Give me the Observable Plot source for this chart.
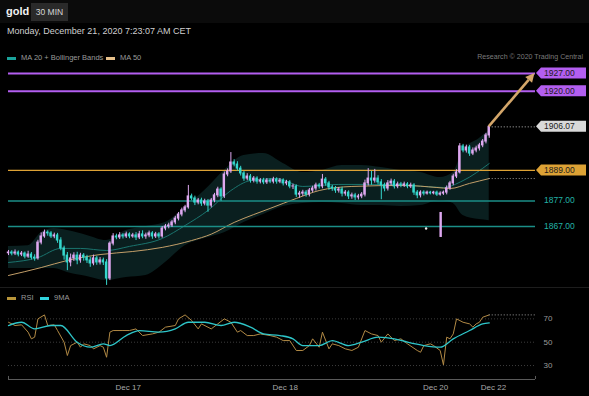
<!DOCTYPE html>
<html><head><meta charset="utf-8">
<script src="https://cdn.jsdelivr.net/npm/d3@7"></script>
<script src="https://cdn.jsdelivr.net/npm/@observablehq/plot@0.6"></script>
<style>
html,body{margin:0;padding:0;background:#000;}
#root{position:relative;width:589px;height:396px;overflow:hidden;background:#000;font-family:"Liberation Sans",Arial,sans-serif;}
.abs{position:absolute;white-space:nowrap;}
#price,#rsi{position:absolute;left:0;}
#price{top:62px;} #rsi{top:288px;}
.sw{position:absolute;height:3px;width:9px;}
</style></head><body><div id="root">
<div class="abs" style="left:0;top:0;width:589px;height:23px;background:#0b0b0b"></div>
<div class="abs" style="left:6px;top:5px;font-weight:bold;font-size:11px;color:#f2f2f2">gold</div>
<div class="abs" style="left:31px;top:3px;width:37px;height:18px;background:#2a2a2a;color:#d8d8d8;font-size:8.5px;line-height:18px;text-align:center">30 MIN</div>
<div class="abs" style="left:7px;top:26px;font-size:9px;color:#cfcfcf">Monday, December 21, 2020 7:23:07 AM CET</div>
<div id="price"></div>
<div class="abs" style="left:0;top:287px;width:589px;height:1px;background:#1d1d1d"></div>
<div id="rsi"></div>
<div class="sw" style="left:7px;top:57px;background:#1aa39b"></div>
<div class="abs" style="left:21px;top:53px;font-size:7.5px;color:#9a9a9a">MA 20 + Bollinger Bands</div>
<div class="sw" style="left:106px;top:57px;background:#e6c08a"></div>
<div class="abs" style="left:120px;top:53px;font-size:7.5px;color:#9a9a9a">MA 50</div>
<div class="abs" style="right:6px;top:53px;font-size:7.1px;color:#7a7a7a">Research © 2020 Trading Central</div>
<div class="sw" style="left:7px;top:297px;background:#b8953a"></div>
<div class="abs" style="left:21px;top:293px;font-size:7.5px;color:#9a9a9a">RSI</div>
<div class="sw" style="left:40px;top:297px;background:#30d4de"></div>
<div class="abs" style="left:54px;top:293px;font-size:7.5px;color:#9a9a9a">9MA</div>
</div>
<script>
// ---------- candles (30 min bars) ----------
const opens = [1856.5,1856.8,1856.4,1856.8,1856.0,1856.4,1855.2,1856.0,1854.8,1854.5,
1860.7,1863.1,1864.6,1864.3,1863.1,1863.5,1861.5,1858.4,1855.6,1852.9,
1854.5,1855.6,1853.7,1855.6,1854.8,1853.7,1852.5,1854.5,1852.9,1853.7,
1852.9,1846.6,1860.3,1863.1,1862.7,1863.5,1863.1,1863.9,1863.1,1863.5,
1862.7,1863.9,1863.1,1863.5,1864.3,1863.1,1863.9,1863.1,1866.2,1867.0,
1867.4,1868.6,1870.1,1871.7,1873.3,1874.5,1878.8,1878.0,1876.4,1877.2,
1876.0,1876.8,1875.2,1877.2,1879.2,1881.5,1878.8,1887.4,1888.6,1892.1,
1891.3,1889.7,1887.8,1885.8,1886.6,1885.0,1885.8,1884.6,1885.0,1884.3,
1885.0,1884.6,1885.4,1884.6,1885.0,1883.9,1884.3,1882.7,1882.7,1879.5,
1879.9,1880.3,1879.5,1881.1,1881.9,1883.1,1882.7,1885.4,1883.9,1882.3,
1881.9,1881.1,1881.5,1879.9,1880.3,1878.8,1879.2,1878.4,1878.8,1879.5,
1883.9,1885.8,1885.0,1885.8,1884.3,1883.1,1881.9,1883.9,1884.6,1882.7,
1883.5,1883.1,1883.5,1882.7,1883.1,1880.3,1879.2,1880.3,1879.9,1880.3,
1880.0,1880.3,1879.5,1879.9,1880.3,1882.0,1883.9,1886.6,1888.2,1898.4,
1896.8,1898.0,1895.6,1896.8,1897.6,1898.8,1900.3,1902.7];
const closes = [1856.8,1856.4,1856.8,1856.0,1856.4,1855.2,1856.0,1854.8,1854.5,1860.7,
1863.1,1864.6,1864.3,1863.1,1863.5,1861.5,1858.4,1855.6,1852.9,1854.5,
1855.6,1853.7,1855.6,1854.8,1853.7,1852.5,1854.5,1852.9,1853.7,1852.9,
1846.6,1860.3,1863.1,1862.7,1863.5,1863.1,1863.9,1863.1,1863.5,1862.7,
1863.9,1863.1,1863.5,1864.3,1863.1,1863.9,1863.1,1866.2,1867.0,1867.4,
1868.6,1870.1,1871.7,1873.3,1874.5,1878.8,1878.0,1876.4,1877.2,1876.0,
1876.8,1875.2,1877.2,1879.2,1881.5,1878.8,1887.4,1888.6,1892.1,1891.3,
1889.7,1887.8,1885.8,1886.6,1885.0,1885.8,1884.6,1885.0,1884.3,1885.0,
1884.6,1885.4,1884.6,1885.0,1883.9,1884.3,1882.7,1882.7,1879.5,1879.9,
1880.3,1879.5,1881.1,1881.9,1883.1,1882.7,1885.4,1883.9,1882.3,1881.9,
1881.1,1881.5,1879.9,1880.3,1878.8,1879.2,1878.4,1878.8,1879.5,1883.9,
1885.8,1885.0,1885.8,1884.3,1883.1,1881.9,1883.9,1884.6,1882.7,1883.5,
1883.1,1883.5,1882.7,1883.1,1880.3,1879.2,1880.3,1879.9,1880.3,1880.0,
1880.3,1879.5,1879.9,1880.3,1882.0,1883.9,1886.6,1888.2,1898.4,1896.8,
1898.0,1895.6,1896.8,1897.6,1898.8,1900.3,1902.7,1906.07];
const highs = [1857.6,1857.5,1857.8,1857.4,1857.2,1857.0,1857.3,1856.8,1855.9,1861.6,
1864.5,1865.6,1865.3,1865.0,1864.4,1864.3,1862.6,1859.3,1856.8,1856.2,
1856.7,1856.9,1856.5,1856.4,1855.7,1854.9,1855.8,1855.3,1854.8,1854.6,
1854.0,1861.0,1864.2,1864.0,1864.6,1864.2,1864.8,1864.5,1864.3,1864.6,
1865.1,1865.3,1864.4,1865.2,1865.0,1864.7,1864.6,1867.0,1867.8,1868.3,
1869.4,1871.0,1872.5,1874.2,1875.3,1883.1,1879.7,1878.9,1878.0,1878.1,
1877.7,1877.6,1878.0,1880.0,1882.4,1882.2,1888.4,1889.6,1896.0,1893.2,
1892.4,1890.6,1888.6,1887.7,1887.4,1886.6,1886.5,1885.8,1885.9,1885.8,
1885.7,1886.3,1886.1,1885.8,1885.7,1885.1,1885.0,1883.6,1883.3,1880.8,
1881.2,1881.1,1881.9,1882.8,1884.0,1883.9,1887.4,1886.2,1884.7,1883.1,
1882.7,1882.3,1882.4,1881.1,1881.0,1880.1,1880.0,1879.6,1880.3,1885.2,
1889.7,1888.6,1889.4,1886.9,1885.4,1884.0,1885.0,1885.6,1885.4,1884.4,
1884.3,1884.4,1884.2,1884.0,1883.8,1881.1,1881.0,1881.0,1880.9,1880.8,
1880.8,1880.9,1880.6,1880.9,1882.9,1884.7,1887.5,1889.3,1899.5,1899.2,
1898.9,1898.8,1897.8,1898.5,1899.6,1901.1,1903.5,1906.5];
const lows = [1855.6,1855.5,1855.6,1855.1,1855.2,1854.3,1854.5,1853.9,1853.4,1853.8,
1859.8,1862.4,1863.2,1862.3,1862.2,1860.4,1857.5,1853.8,1849.7,1851.2,
1853.3,1852.0,1852.6,1853.4,1852.5,1851.0,1851.6,1851.8,1851.9,1851.7,
1843.9,1845.8,1859.4,1861.8,1861.9,1862.1,1862.3,1862.2,1862.4,1861.5,
1861.9,1862.2,1862.0,1862.6,1862.0,1862.3,1862.1,1862.4,1865.3,1866.1,
1866.6,1867.7,1869.2,1870.8,1872.4,1873.8,1877.1,1875.2,1875.5,1874.9,
1875.1,1872.6,1874.3,1876.3,1878.3,1876.9,1878.0,1886.5,1887.8,1890.4,
1888.7,1886.8,1884.7,1884.9,1884.0,1884.1,1883.6,1883.7,1883.4,1883.5,
1883.8,1883.7,1883.6,1883.8,1882.9,1883.0,1881.8,1881.5,1878.4,1878.1,
1878.8,1878.5,1878.6,1880.2,1880.9,1881.7,1881.8,1882.8,1881.2,1880.8,
1880.0,1880.1,1878.6,1878.9,1877.6,1877.7,1877.2,1877.4,1877.9,1878.6,
1882.9,1883.2,1884.0,1883.3,1877.5,1880.6,1880.9,1882.9,1881.7,1881.8,
1882.2,1882.3,1881.8,1881.9,1879.2,1877.9,1878.2,1879.0,1879.3,1879.4,
1879.4,1878.8,1878.9,1879.2,1879.4,1881.2,1883.0,1885.8,1887.6,1895.9,
1895.8,1894.5,1894.8,1895.9,1896.6,1897.9,1899.4,1901.6];
// stray prints over the weekend gap
const dojiIdx = [127.7], dojiPrice = [1866.2];
const spikeIdx = [132.3], spikeLow = [1862.7], spikeHigh = [1872.5];

// ---------- Bollinger bands / moving averages ----------
const bandIdx = [0,6,10,14,18,24,30,36,42,48,54,60,66,72,78,84,90,96,102,108,114,120,126,132,136,139,144,147];
const bandUpper = [1859.2,1859.5,1864.6,1866.2,1865.4,1863.5,1861.5,1865.4,1867.0,1868.6,1874.5,1881.1,1889.0,1894.8,1895.6,1891.7,1888.2,1889.0,1890.9,1890.9,1890.1,1889.0,1888.2,1886.2,1888.2,1896.8,1901.5,1904.6];
const bandLower = [1850.5,1850.5,1850.5,1850.5,1849.0,1847.4,1845.8,1847.0,1847.8,1852.9,1859.5,1862.3,1864.6,1868.6,1871.7,1874.8,1876.0,1876.4,1876.0,1875.2,1875.2,1874.8,1875.2,1877.2,1876.0,1871.3,1869.7,1869.3];
const ma20Idx = [0,9,16,22,30,37,47,54,61,68,74,82,90,101,116,127,133,139,147];
const ma20Val = [1852.9,1854.8,1858.4,1858.4,1857.6,1859.2,1862.3,1867.4,1873.3,1881.1,1885.0,1885.8,1882.7,1883.5,1883.5,1882.7,1882.3,1885.0,1891.7];
const ma50Idx = [0,10,18,28,38,47,56,62,69,75,80,88,95,105,121,131,135,141,147];
const ma50Val = [1847.8,1850.9,1853.7,1856.0,1857.2,1858.8,1861.5,1864.0,1868.6,1871.7,1874.1,1878.0,1881.1,1882.7,1883.1,1882.3,1881.9,1883.9,1885.8];

// ---------- levels ----------
const resistance = [1927.00, 1920.00];
const pivot = [1889.00];
const support = [1877.00, 1867.00];

// ---------- RSI ----------
const rsiIdx = [0,2,4,6,7,8,9,11,12,14,15,17,18,19,21,22,23,25,26,28,29,30,31,32,35,37,39,41,44,46,48,51,52,54,56,58,59,62,64,66,68,70,71,73,75,77,80,82,84,86,88,90,92,93,95,96,98,99,101,103,105,107,109,111,113,114,116,118,120,122,125,126,127,129,130,132,133,134,135,136,137,139,141,142,143,144,145,147];
const rsiVal = [67.1,64.3,64.9,58.6,52.9,54.3,70.0,73.4,64.3,64.9,60.0,50.0,38.6,47.1,50.0,45.7,48.6,47.1,44.3,47.1,45.7,37.1,58.6,60.0,60.0,60.0,61.4,55.7,57.1,58.6,62.9,64.3,70.0,73.4,68.6,61.4,65.7,61.4,65.7,70.0,67.1,58.6,60.0,55.7,55.7,57.1,55.7,54.3,51.4,51.4,42.9,42.9,47.1,52.9,45.7,58.6,44.3,48.6,47.1,44.3,42.9,45.7,60.0,57.1,55.7,50.0,57.1,51.4,52.9,48.6,42.9,41.4,47.1,48.6,47.1,42.9,30.6,54.3,52.9,57.1,70.0,67.1,65.7,62.9,65.7,67.1,71.4,73.4];
const ma9Idx = [0,4,8,13,16,21,25,29,31,36,40,46,51,55,60,65,69,74,78,83,87,90,95,99,104,108,113,118,122,127,132,136,141,145,147];
const ma9Val = [64.3,67.1,61.4,64.3,64.3,50.0,45.7,48.6,47.1,55.7,60.0,58.6,61.4,67.1,67.1,64.3,67.1,62.9,57.1,55.7,52.9,47.1,47.1,51.4,47.1,50.0,54.3,52.9,50.0,47.1,45.7,52.9,60.0,65.7,66.6];
const rsiLevels = [70, 50, 30];

// ---------- x axis ----------
const tickIdx = [36.6, 84.6, 130.6, 148.3];
const tickLabels = ["Dec 17", "Dec 18", "Dec 20", "Dec 22"];

// ================= drawing =================
const N = closes.length;
const xMax = N - 1 + 14.15;
const UP = "#dea8f0", DOWN = "#35d7cd";
const PURPLE = "#b35ef0", ORANGE = "#dda235", TEAL = "#1b8e87";
const candles = d3.range(N).map(i => ({i, o: opens[i], c: closes[i], h: highs[i], l: lows[i]}));
const ups = candles.filter(d => d.c >= d.o), downs = candles.filter(d => d.c < d.o);
const band = bandIdx.map((i, k) => ({i, hi: bandUpper[k], lo: bandLower[k]}));
const ma20 = ma20Idx.map((i, k) => ({i, v: ma20Val[k]}));
const ma50 = ma50Idx.map((i, k) => ({i, v: ma50Val[k]}));
const last = closes[N - 1];
const font = "Liberation Sans, Arial, sans-serif";

function tagMark(index, scales, values, dims) {
  const g = d3.create("svg:g").attr("font-family", font).attr("font-size", 8.5).attr("text-anchor", "start");
  const x0 = dims.width - dims.marginRight + 1, x1 = 586;
  const box = (v, fill) => {
    const y = scales.y(v);
    g.append("path").attr("d", `M${x0},${y}L${x0 + 5},${y - 5.5}H${x1}V${y + 5.5}H${x0 + 5}Z`).attr("fill", fill);
    g.append("text").attr("x", x0 + 8).attr("y", y).attr("dy", "0.35em").attr("text-anchor", "start")
      .attr("fill", "#1c1c1c").text(v.toFixed(2));
  };
  resistance.forEach(v => box(v, PURPLE));
  pivot.forEach(v => box(v, ORANGE));
  box(last, "#d9d9d9");
  support.forEach(v => {
    g.append("text").attr("x", x0 + 8).attr("y", scales.y(v)).attr("dy", "0.35em").attr("text-anchor", "start")
      .attr("fill", "#22b2a7").text(v.toFixed(2));
  });
  // projection arrow toward the first target
  const ax = scales.x(N - 1), ay = scales.y(last);
  const bx = scales.x(N - 1 + 14), by = scales.y(resistance[0]);
  const ang = Math.atan2(by - ay, bx - ax), L = 9, W = 4.5;
  const hx = bx - L * Math.cos(ang), hy = by - L * Math.sin(ang);
  g.append("line").attr("x1", ax).attr("y1", ay).attr("x2", hx).attr("y2", hy)
    .attr("stroke", "#d4a66a").attr("stroke-width", 2.6);
  g.append("path").attr("fill", "#d4a66a").attr("d",
    `M${bx},${by}L${hx + W * Math.sin(ang)},${hy - W * Math.cos(ang)}L${hx - W * Math.sin(ang)},${hy + W * Math.cos(ang)}Z`);
  return g.node();
}

const price = Plot.plot({
  width: 589, height: 226,
  marginLeft: 8, marginRight: 54, marginTop: 0, marginBottom: 0,
  style: {background: "transparent", overflow: "visible", fontFamily: font},
  x: {domain: [0, xMax], axis: null},
  y: {domain: [1842.69, 1931.31], axis: null},
  marks: [
    Plot.areaY(band, {x: "i", y1: "lo", y2: "hi", fill: "#0a1f1f", curve: "monotone-x"}),
    Plot.line(ma20, {x: "i", y: "v", stroke: "#1a746e", strokeWidth: 1, curve: "monotone-x"}),
    Plot.line(ma50, {x: "i", y: "v", stroke: "#c29e68", strokeWidth: 1, curve: "monotone-x"}),
    Plot.ruleY(resistance, {stroke: PURPLE, strokeWidth: 2}),
    Plot.ruleY(pivot, {stroke: ORANGE, strokeWidth: 1.4}),
    Plot.ruleY(support, {stroke: TEAL, strokeWidth: 1.4}),
    Plot.ruleY([last], {x1: N - 1, x2: xMax, stroke: "#bbbbbb", strokeDasharray: "1,2"}),
    Plot.ruleY([ma50Val[ma50Val.length - 1]], {x1: N - 1, x2: xMax, stroke: "#999999", strokeDasharray: "1,2"}),
    Plot.ruleX(ups, {x: "i", y1: "l", y2: "h", stroke: UP, strokeWidth: 1}),
    Plot.ruleX(downs, {x: "i", y1: "l", y2: "h", stroke: DOWN, strokeWidth: 1}),
    Plot.rect(ups, {x1: d => d.i - 0.37, x2: d => d.i + 0.37, y1: "o", y2: "c", fill: UP, insetTop: -0.5, insetBottom: -0.5}),
    Plot.rect(downs, {x1: d => d.i - 0.37, x2: d => d.i + 0.37, y1: "o", y2: "c", fill: DOWN, insetTop: -0.5, insetBottom: -0.5}),
    Plot.dot(dojiIdx.map((i, k) => ({i, p: dojiPrice[k]})), {x: "i", y: "p", r: 1.2, fill: "#eeeeee"}),
    Plot.rect(spikeIdx.map((i, k) => ({i, l: spikeLow[k], h: spikeHigh[k]})), {x1: d => d.i - 0.37, x2: d => d.i + 0.37, y1: "l", y2: "h", fill: UP}),
    tagMark
  ]
});
document.getElementById("price").append(price);

const rsi = rsiIdx.map((i, k) => ({i, v: rsiVal[k]}));
const ma9 = ma9Idx.map((i, k) => ({i, v: ma9Val[k]}));
const yBottom = 18.03;
const rsiPlot = Plot.plot({
  width: 589, height: 108,
  marginLeft: 8, marginRight: 54, marginTop: 0, marginBottom: 17,
  style: {background: "transparent", overflow: "visible", fontFamily: font, fontSize: "8px", color: "#9a9a9a"},
  x: {domain: [0, xMax]},
  y: {domain: [yBottom, 96.03]},
  marks: [
    Plot.ruleY(rsiLevels, {stroke: "#3c3c3c", strokeDasharray: "1,2"}),
    Plot.line(rsi, {x: "i", y: "v", stroke: "#b28a45", strokeWidth: 1}),
    Plot.line(ma9, {x: "i", y: "v", stroke: "#2ec6c9", strokeWidth: 1.3, curve: "monotone-x"}),
    Plot.ruleY([rsiVal[rsiVal.length - 1]], {x1: N - 1, x2: xMax, stroke: "#9a9a9a", strokeDasharray: "1,2"}),
    Plot.ruleY([yBottom], {stroke: "#5a5a5a"}),
    Plot.ruleX([0, xMax], {y1: yBottom, y2: yBottom + 2.6, stroke: "#5a5a5a"}),
    Plot.axisY({anchor: "right", ticks: rsiLevels, tickSize: 0, tickPadding: 8, label: null, fill: "#9a9a9a"}),
    Plot.axisX({ticks: tickIdx, tickFormat: d => tickLabels[tickIdx.indexOf(d)], tickSize: 0, tickPadding: 5, label: null, fill: "#a8a8a8"})
  ]
});
document.getElementById("rsi").append(rsiPlot);
</script>
</body></html>
